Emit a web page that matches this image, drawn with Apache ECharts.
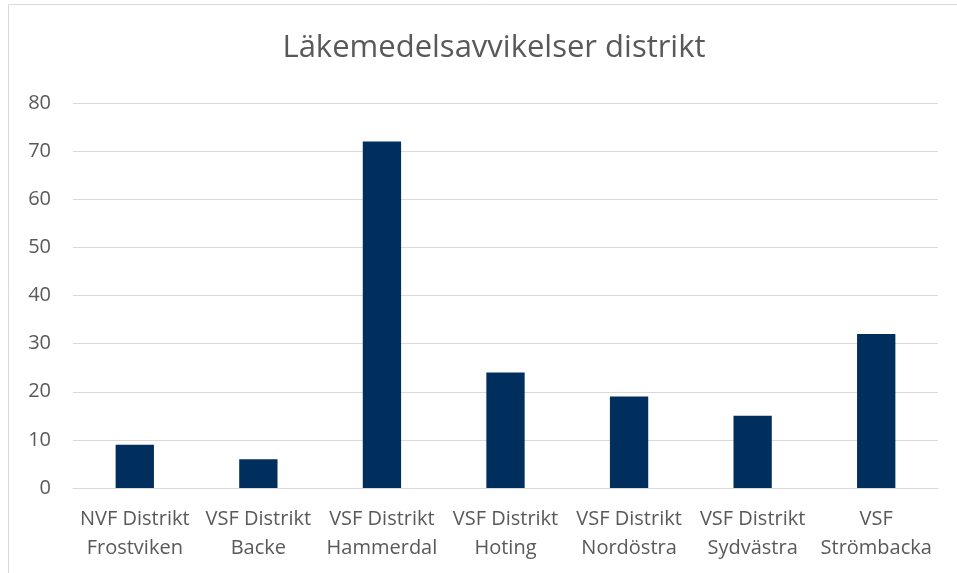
<!DOCTYPE html>
<html>
<head>
<meta charset="utf-8">
<script src="https://cdn.jsdelivr.net/npm/echarts@6/dist/echarts.min.js"></script>
<style>
  html, body { margin: 0; padding: 0; background: #fff; }
  #chart { width: 957px; height: 573px; }
</style>
</head>
<body>
<div id="chart"></div>
<script>
// data
const categories = [
  'NVF Distrikt\nFrostviken',
  'VSF Distrikt\nBacke',
  'VSF Distrikt\nHammerdal',
  'VSF Distrikt\nHoting',
  'VSF Distrikt\nNordöstra',
  'VSF Distrikt\nSydvästra',
  'VSF\nStrömbacka'
]
const values = [9, 6, 72, 24, 19, 15, 32]
const yTicks = { min: 0, max: 80, interval: 10 }

const textColor = '#595959'
const font = '"Open Sans", "Noto Sans", sans-serif'

const chart = echarts.init(document.getElementById('chart'))
chart.setOption({
  backgroundColor: '#fff',
  animation: false,
  graphic: [{
    type: 'rect',
    shape: { x: 8.5, y: 4.5, width: 1000, height: 700 },
    style: { fill: 'none', stroke: '#d9d9d9', lineWidth: 1 },
    silent: true
  }],
  title: {
    text: 'Läkemedelsavvikelser distrikt',
    left: 489,
    textAlign: 'center',
    top: 28,
    textStyle: {
      color: textColor,
      fontSize: 31,
      fontWeight: 'normal',
      fontFamily: font
    }
  },
  grid: {
    left: 73,
    right: 19,
    top: 103,
    bottom: 85,
    containLabel: false
  },
  xAxis: {
    type: 'category',
    data: categories,
    axisTick: { show: false },
    axisLine: { show: true, lineStyle: { color: '#d9d9d9', width: 1 } },
    axisLabel: {
      interval: 0,
      margin: 17,
      color: textColor,
      fontSize: 20,
      lineHeight: 29,
      fontFamily: font
    }
  },
  yAxis: {
    type: 'value',
    min: yTicks.min,
    max: yTicks.max,
    interval: yTicks.interval,
    axisLine: { show: false },
    axisTick: { show: false },
    splitLine: { lineStyle: { color: '#d9d9d9', width: 1 } },
    axisLabel: {
      margin: 22,
      color: textColor,
      fontSize: 20,
      fontFamily: font
    }
  },
  series: [{
    type: 'bar',
    data: values,
    barWidth: '31%',
    itemStyle: { color: '#002f5e' }
  }]
})
</script>
</body>
</html>
